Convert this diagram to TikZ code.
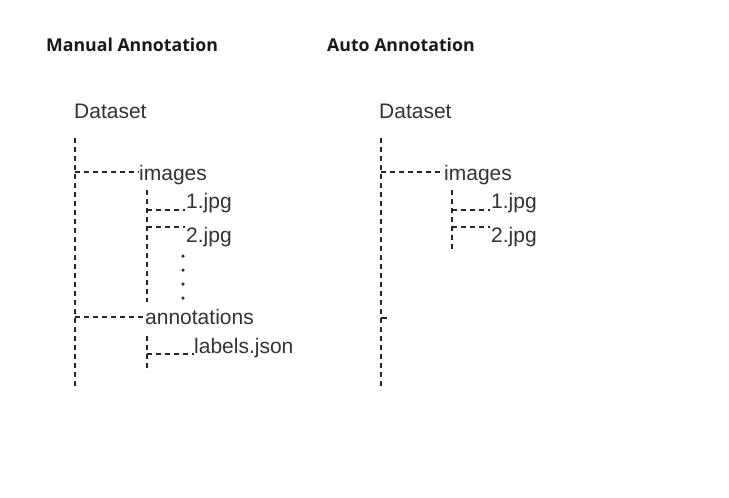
\documentclass[tikz,border=0pt]{standalone}
\usepackage{fontspec}
\setmainfont{Liberation Sans}
\newfontfamily\titlefont{Open Sans}
\begin{document}
\begin{tikzpicture}[x=1pt,y=-1pt,
  treeline/.style={draw=black!85, line width=1.3pt, dash pattern=on 5pt off 4pt},
  title/.style={anchor=base west, inner sep=0pt, font=\titlefont\bfseries\fontsize{17.7}{21}\selectfont, text=black!90},
  item/.style={anchor=base west, inner sep=0pt, font=\fontsize{21}{25}\selectfont, text=black!80},
  dot/.style={circle, fill=black!85, inner sep=0pt, minimum size=3.5pt}]
\useasboundingbox[fill=white] (0,0) rectangle (729,498);

% ---------- Manual Annotation ----------
\node[title] (tm) at (46,51) {Manual Annotation};
\node[item] (dm) at (74,118) {Dataset};
\node[item] (im) at (139,180) {images};
\node[item] (j1m) at (186,208) {1.jpg};
\node[item] (j2m) at (186,242) {2.jpg};
\node[item] (am) at (145,324) {annotations};
\node[item] (lm) at (194,353) {labels.json};
\node[dot] (d1) at (183,256) {};
\node[dot] (d2) at (183,270) {};
\node[dot] (d3) at (183,284) {};
\node[dot] (d4) at (183,298) {};

\coordinate (mTop) at (75,138);
\coordinate (mBot) at (75,390);
\coordinate (mI) at (75,172);
\coordinate (mIe) at (139,172);
\coordinate (mA) at (75,317);
\coordinate (mAe) at (145,317);
\coordinate (sTop) at (147,190);
\coordinate (sBot) at (147,302);
\coordinate (s1) at (147,210);
\coordinate (s1e) at (185,210);
\coordinate (s2) at (147,227);
\coordinate (s2e) at (185,227);
\coordinate (tTop) at (147,336);
\coordinate (tBot) at (147,372);
\coordinate (t1) at (147,354);
\coordinate (t1e) at (194,354);

\draw[treeline] (mTop) -- (mBot);
\draw[treeline] (mI) -- (mIe);
\draw[treeline] (mA) -- (mAe);
\draw[treeline] (sTop) -- (sBot);
\draw[treeline] (s1) -- (s1e);
\draw[treeline] (s2) -- (s2e);
\draw[treeline] (tTop) -- (tBot);
\draw[treeline] (t1) -- (t1e);

% ---------- Auto Annotation ----------
\node[title] (ta) at (327,51) {Auto Annotation};
\node[item] (da) at (379,118) {Dataset};
\node[item] (ia) at (444,180) {images};
\node[item] (j1a) at (491,208) {1.jpg};
\node[item] (j2a) at (491,242) {2.jpg};

\coordinate (aTop) at (381,138);
\coordinate (aBot) at (381,390);
\coordinate (aI) at (381,172);
\coordinate (aIe) at (444,172);
\coordinate (aTick) at (381,318);
\coordinate (aTicke) at (387,318);
\coordinate (uTop) at (452,190);
\coordinate (uBot) at (452,252);
\coordinate (u1) at (452,210);
\coordinate (u1e) at (490,210);
\coordinate (u2) at (452,227);
\coordinate (u2e) at (490,227);

\draw[treeline] (aTop) -- (aBot);
\draw[treeline] (aI) -- (aIe);
\draw[draw=black!85, line width=1.3pt] (aTick) -- (aTicke);
\draw[treeline] (uTop) -- (uBot);
\draw[treeline] (u1) -- (u1e);
\draw[treeline] (u2) -- (u2e);
\end{tikzpicture}
\end{document}
